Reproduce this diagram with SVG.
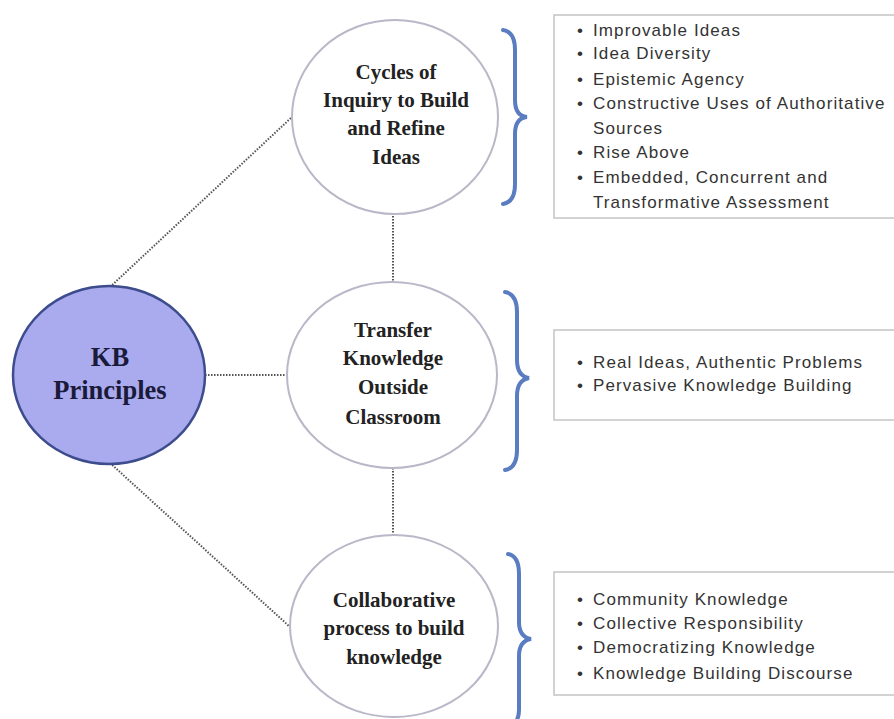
<svg xmlns="http://www.w3.org/2000/svg" width="894" height="719" viewBox="0 0 894 719">
<style>
.conn{stroke:#555;stroke-width:2;stroke-dasharray:1.5,1.5;fill:none}
.sub{fill:#fff;stroke:#b8b8c8;stroke-width:2}
.main{fill:#aaaaee;stroke:#3c4c8c;stroke-width:2.5}
.brace{fill:none;stroke:#5a7cc0;stroke-width:4;stroke-linecap:round}
.box{fill:#fff;stroke:#c4c4c4;stroke-width:1.5}
.ct{font-family:"Liberation Serif","Times New Roman",serif;font-weight:bold;font-size:21px;fill:#222;text-anchor:middle}
.kt{font-family:"Liberation Serif","Times New Roman",serif;font-weight:bold;font-size:26.5px;fill:#1a1a3a;text-anchor:middle}
.bt{font-family:"Liberation Sans",Arial,sans-serif;font-size:17px;letter-spacing:1.1px;fill:#333}
</style>
<rect width="894" height="719" fill="#fff"/>
<g id="connectors">
<line class="conn" x1="110" y1="287" x2="292" y2="117"/>
<line class="conn" x1="205" y1="375" x2="287" y2="375"/>
<line class="conn" x1="110" y1="463" x2="290" y2="627"/>
<line class="conn" x1="393" y1="213" x2="393" y2="282"/>
<line class="conn" x1="393" y1="468" x2="393" y2="535"/>
</g>
<g id="kb">
<ellipse class="main" cx="109" cy="375" rx="96" ry="89"/>
<text class="kt" x="110" y="366">KB</text>
<text class="kt" x="110" y="399">Principles</text>
</g>
<g id="cycles">
<ellipse class="sub" cx="395" cy="117" rx="103" ry="97"/>
<text class="ct" x="396" y="79">Cycles of</text>
<text class="ct" x="396" y="107">Inquiry to Build</text>
<text class="ct" x="396" y="135">and Refine</text>
<text class="ct" x="396" y="164">Ideas</text>
</g>
<g id="transfer">
<ellipse class="sub" cx="392" cy="375" rx="105" ry="93"/>
<text class="ct" x="393" y="337">Transfer</text>
<text class="ct" x="393" y="365">Knowledge</text>
<text class="ct" x="393" y="394">Outside</text>
<text class="ct" x="393" y="424">Classroom</text>
</g>
<g id="collab">
<ellipse class="sub" cx="394" cy="626" rx="104" ry="91"/>
<text class="ct" x="394" y="607">Collaborative</text>
<text class="ct" x="394" y="635">process to build</text>
<text class="ct" x="394" y="664">knowledge</text>
</g>
<g id="braces">
<path class="brace" d="M503,30 Q515,32 515,50 L515,100 Q515,116 527,117 Q515,118 515,134 L515,184 Q515,202 503,204"/>
<path class="brace" d="M505,292 Q517,294 517,312 L517,360 Q517,376 529,378 Q517,380 517,396 L517,450 Q517,468 505,470"/>
<path class="brace" d="M508,554 Q519,556 519,574 L519,622 Q519,637 531,639 Q519,641 519,656 L519,710 Q519,719 514,724"/>
</g>
<g id="box1">
<rect class="box" x="554" y="15" width="350" height="203"/>
<g class="bt">
<text x="577" y="36">•</text><text x="593" y="36">Improvable Ideas</text>
<text x="577" y="59">•</text><text x="593" y="59">Idea Diversity</text>
<text x="577" y="85">•</text><text x="593" y="85">Epistemic Agency</text>
<text x="577" y="109">•</text><text x="593" y="109">Constructive Uses of Authoritative</text>
<text x="593" y="134">Sources</text>
<text x="577" y="158">•</text><text x="593" y="158">Rise Above</text>
<text x="577" y="183">•</text><text x="593" y="183">Embedded, Concurrent and</text>
<text x="593" y="208">Transformative Assessment</text>
</g>
</g>
<g id="box2">
<rect class="box" x="554" y="330" width="350" height="90"/>
<g class="bt">
<text x="577" y="368">•</text><text x="593" y="368">Real Ideas, Authentic Problems</text>
<text x="577" y="391">•</text><text x="593" y="391">Pervasive Knowledge Building</text>
</g>
</g>
<g id="box3">
<rect class="box" x="554" y="572" width="350" height="123"/>
<g class="bt">
<text x="577" y="605">•</text><text x="593" y="605">Community Knowledge</text>
<text x="577" y="629">•</text><text x="593" y="629">Collective Responsibility</text>
<text x="577" y="653">•</text><text x="593" y="653">Democratizing Knowledge</text>
<text x="577" y="679">•</text><text x="593" y="679">Knowledge Building Discourse</text>
</g>
</g>
</svg>
